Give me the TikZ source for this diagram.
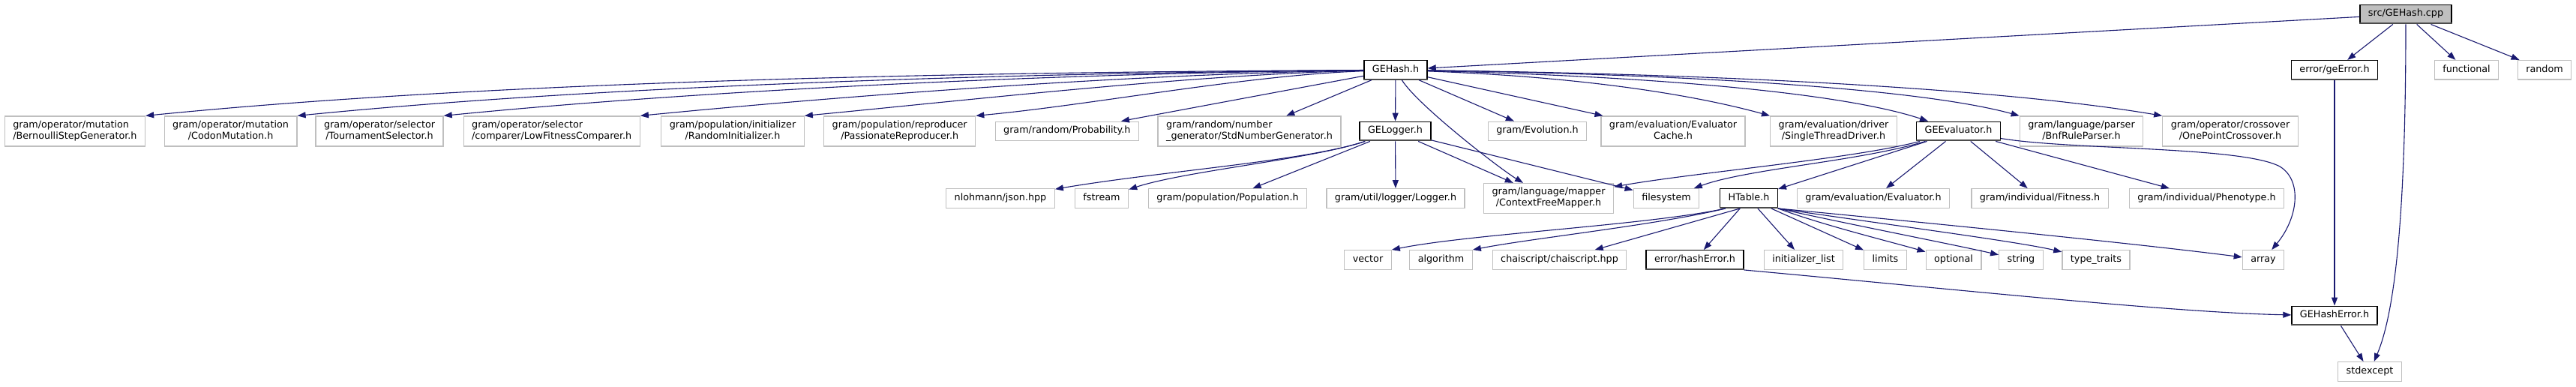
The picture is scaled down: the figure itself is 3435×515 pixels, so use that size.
\documentclass[tikz,border=0pt]{standalone}
\usepackage{fontspec}
\setmainfont{DejaVu Sans}
\usetikzlibrary{arrows.meta,calc}
\definecolor{edgec}{HTML}{191970}
\definecolor{gline}{HTML}{BFBFBF}
\definecolor{rootfill}{HTML}{BFBFBF}
\begin{document}
\begin{tikzpicture}[x=1pt,y=-1pt,
  every node/.style={font=\fontsize{12.75}{13.4}\selectfont, inner xsep=11pt, inner ysep=0pt, align=center},
  gbox/.style={draw=gline, line width=1.3pt, fill=white, minimum height=25.6pt},
  dbox/.style={draw=black, line width=1.3pt, fill=white, minimum height=25.6pt},
  rootbox/.style={draw=black, line width=1.3pt, fill=rootfill, minimum height=25.6pt},
  two/.style={minimum height=40pt},
  conn/.style={draw=edgec, line width=1.1pt, -{Triangle[length=11pt,width=8pt]}}]
\fill[white] (0,0) rectangle (3435,515);
\useasboundingbox (0,0) rectangle (3435,515);

% row 0
\node[rootbox] (cpp) at (3208,19) {\strut src/GEHash.cpp};
% row 1
\node[dbox] (gehash) at (1861,93.3) {\strut GEHash.h};
\node[dbox] (geerror) at (3113,93.3) {\strut error/geError.h};
\node[gbox] (functional) at (3289,93.3) {\strut functional};
\node[gbox] (random) at (3393,93.3) {\strut random};
% row 2
\node[gbox,two,align=left] (bern) at (99.9,175) {\strut gram/operator/mutation\\\strut /BernoulliStepGenerator.h};
\node[gbox,two] (codon) at (307.6,175) {\strut gram/operator/mutation\\\strut /CodonMutation.h};
\node[gbox,two] (tourn) at (506.1,175) {\strut gram/operator/selector\\\strut /TournamentSelector.h};
\node[gbox,two,align=left] (lowfit) at (735.7,175) {\strut gram/operator/selector\\\strut /comparer/LowFitnessComparer.h};
\node[gbox,two] (randinit) at (977,175) {\strut gram/population/initializer\\\strut /RandomInitializer.h};
\node[gbox,two] (passion) at (1199.7,175) {\strut gram/population/reproducer\\\strut /PassionateReproducer.h};
\node[gbox] (prob) at (1422.8,175) {\strut gram/random/Probability.h};
\node[gbox,two,align=left] (stdnum) at (1666,175) {\strut gram/random/number\\\strut \_generator/StdNumberGenerator.h};
\node[dbox] (gelogger) at (1860.5,175) {\strut GELogger.h};
\node[gbox] (evol) at (2050,175) {\strut gram/Evolution.h};
\node[gbox,two] (evcache) at (2231,175) {\strut gram/evaluation/Evaluator\\\strut Cache.h};
\node[gbox,two] (single) at (2445,175) {\strut gram/evaluation/driver\\\strut /SingleThreadDriver.h};
\node[dbox] (geeval) at (2611.5,175) {\strut GEEvaluator.h};
\node[gbox,two] (bnf) at (2775.5,175) {\strut gram/language/parser\\\strut /BnfRuleParser.h};
\node[gbox,two] (onepoint) at (2974,175) {\strut gram/operator/crossover\\\strut /OnePointCrossover.h};
% row 3
\node[gbox] (json) at (1334,264.5) {\strut nlohmann/json.hpp};
\node[gbox] (fstream) at (1469,264.5) {\strut fstream};
\node[gbox] (population) at (1637,264.5) {\strut gram/population/Population.h};
\node[gbox] (logger) at (1861,264.5) {\strut gram/util/logger/Logger.h};
\node[gbox,two] (cfm) at (2065,264.5) {\strut gram/language/mapper\\\strut /ContextFreeMapper.h};
\node[gbox] (filesystem) at (2222,264.5) {\strut filesystem};
\node[dbox] (htable) at (2332,264.5) {\strut HTable.h};
\node[gbox] (evaluator) at (2498,264.5) {\strut gram/evaluation/Evaluator.h};
\node[gbox] (fitness) at (2720,264.5) {\strut gram/individual/Fitness.h};
\node[gbox] (phenotype) at (2942.5,264.5) {\strut gram/individual/Phenotype.h};
% row 4
\node[gbox] (vector) at (1824,346.5) {\strut vector};
\node[gbox] (algorithm) at (1921.5,346.5) {\strut algorithm};
\node[gbox] (chai) at (2079.5,346.5) {\strut chaiscript/chaiscript.hpp};
\node[dbox] (hasherr) at (2260,346.5) {\strut error/hashError.h};
\node[gbox] (initlist) at (2405,346.5) {\strut initializer\_list};
\node[gbox] (limits) at (2514,346.5) {\strut limits};
\node[gbox] (optional) at (2605,346.5) {\strut optional};
\node[gbox] (string) at (2695,346.5) {\strut string};
\node[gbox] (typetraits) at (2795,346.5) {\strut type\_traits};
\node[gbox] (array) at (3018,346.5) {\strut array};
% row 5, 6
\node[dbox] (gehasherr) at (3113,421) {\strut GEHashError.h};
\node[gbox] (stdexcept) at (3160,495.5) {\strut stdexcept};

% bottom shading of documented nodes
\foreach \n in {cpp,gehash,geerror,gelogger,geeval,htable,hasherr,gehasherr}
  \draw[line width=1.8pt, black!70] ([yshift=1.1pt]\n.south west) -- ([yshift=1.1pt]\n.south east);

% edges from src/GEHash.cpp
\draw[conn] (cpp) -- (gehash);
\draw[conn] (cpp) -- (geerror);
\draw[conn] (cpp) -- (functional);
\draw[conn] (cpp) -- (random);
\draw[conn] (cpp) .. controls (3208,300) and (3192,420) .. (stdexcept);

% edges from GEHash.h
\draw[conn] (gehash) .. controls (1331,96) and (681,106) .. (bern.north east);
\draw[conn] (gehash) .. controls (1391,97) and (823,112) .. (codon.north east);
\draw[conn] (gehash) .. controls (1450,97) and (959,118) .. (tourn.north east);
\draw[conn] (gehash) .. controls (1529,98) and (1143,126) .. (lowfit.north east);
\draw[conn] (gehash) .. controls (1595,99) and (1297,133) .. (randinit.north east);
\draw[conn] (gehash) .. controls (1663,100) and (1456,140) .. (passion.north east);
\draw[conn] (gehash) -- (prob);
\draw[conn] (gehash) -- (stdnum);
\draw[conn] (gehash) -- (gelogger);
\draw[conn] (gehash) .. controls (1890,140) and (2000,225) .. (cfm);
\draw[conn] (gehash) -- (evol);
\draw[conn] (gehash) -- (evcache);
\draw[conn] (gehash) .. controls (2150,104) and (2290,135) .. (single.north west);
\draw[conn] (gehash) .. controls (2250,103) and (2470,128) .. (geeval);
\draw[conn] (gehash) .. controls (2250,99) and (2560,118) .. (bnf.north west);
\draw[conn] (gehash) .. controls (2250,98) and (2650,115) .. (onepoint.north west);

% edges from error/geError.h
\draw[conn] (geerror) -- (gehasherr);

% edges from GELogger.h
\draw[conn] (gelogger) .. controls (1740,215) and (1550,228) .. (json);
\draw[conn] (gelogger) .. controls (1750,212) and (1580,228) .. (fstream);
\draw[conn] (gelogger) -- (population);
\draw[conn] (gelogger) -- (logger);
\draw[conn] (gelogger) -- (cfm);
\draw[conn] (gelogger) -- (filesystem);

% edges from GEEvaluator.h
\draw[conn] (geeval) .. controls (2470,212) and (2260,230) .. (cfm);
\draw[conn] (geeval) .. controls (2480,215) and (2330,225) .. (filesystem);
\draw[conn] (geeval) -- (htable);
\draw[conn] (geeval) -- (evaluator);
\draw[conn] (geeval) -- (fitness);
\draw[conn] (geeval) -- (phenotype);
\draw[conn] (geeval) .. controls (2760,200) and (2990,195) .. (3040,222) .. controls (3070,240) and (3065,290) .. (array);

% edges from HTable.h
\draw[conn] ($(htable.south west)!0.1!(htable.south east)$) .. controls (2200,300) and (1960,312) .. (vector.north east);
\draw[conn] ($(htable.south west)!0.1!(htable.south east)$) .. controls (2210,300) and (2040,318) .. (algorithm.north east);
\draw[conn] ($(htable.south west)!0.35!(htable.south east)$) -- (chai);
\draw[conn] (htable) -- (hasherr);
\draw[conn] (htable) -- (initlist);
\draw[conn] (htable) -- (limits);
\draw[conn] (htable.south east) .. controls (2430,300) and (2520,322) .. (optional);
\draw[conn] (htable.south east) .. controls (2470,300) and (2600,325) .. (string);
\draw[conn] (htable.south east) .. controls (2520,300) and (2690,322) .. (typetraits);
\draw[conn] (htable.south east) .. controls (2600,300) and (2850,325) .. (array);

% edges from error/hashError.h and GEHashError.h
\draw[conn] (hasherr.south east) .. controls (2600,385) and (2900,417) .. (gehasherr);
\draw[conn] (gehasherr) -- (stdexcept);
\end{tikzpicture}
\end{document}
